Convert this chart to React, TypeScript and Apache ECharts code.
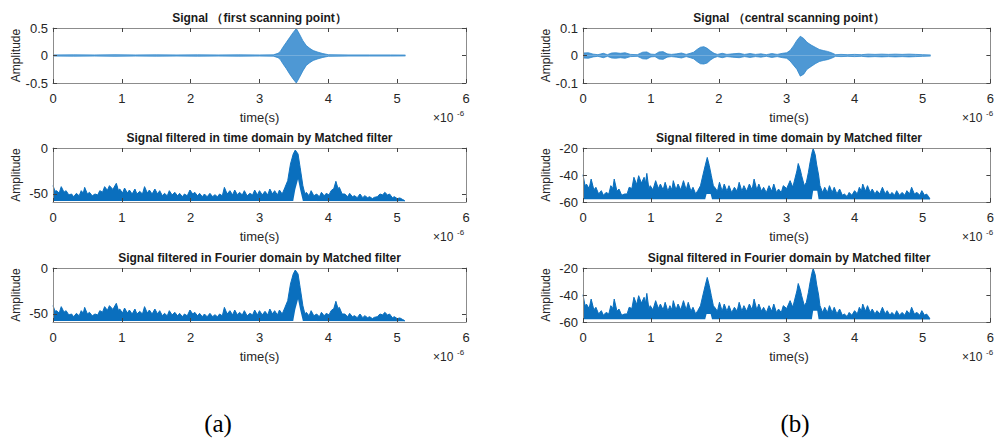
import React, { useEffect, useRef } from "react";
import * as echarts from "echarts";

// ---------- (a) Signal, first scanning point (envelope of the waveform) ----------
const sigATime = [0, 0.3, 0.6, 0.9, 1.2, 1.5, 1.8, 2.1, 2.4, 2.7, 3.0, 3.2, 3.27, 3.3, 3.34, 3.39, 3.44, 3.49, 3.535, 3.58, 3.63, 3.68, 3.73, 3.78, 3.85, 3.92, 4.0, 4.3, 4.6, 4.9, 5.12];
const sigAUpper = [0.01, 0.012, 0.01, 0.014, 0.01, 0.012, 0.01, 0.012, 0.01, 0.012, 0.01, 0.012, 0.04, 0.07, 0.15, 0.24, 0.33, 0.42, 0.49, 0.39, 0.27, 0.18, 0.13, 0.09, 0.06, 0.035, 0.015, 0.01, 0.01, 0.01, 0.008];
const sigALower = [-0.01, -0.012, -0.01, -0.014, -0.01, -0.012, -0.01, -0.012, -0.01, -0.012, -0.01, -0.012, -0.04, -0.07, -0.15, -0.24, -0.34, -0.43, -0.5, -0.4, -0.28, -0.18, -0.13, -0.09, -0.06, -0.035, -0.015, -0.01, -0.01, -0.01, -0.008];

// ---------- (a) Matched filter output, top edge of the band (time and Fourier domain look identical) ----------
const filtATime = [0, 0.03, 0.05, 0.09, 0.12, 0.16, 0.19, 0.23, 0.27, 0.3, 0.34, 0.38, 0.41, 0.44, 0.46, 0.5, 0.53, 0.57, 0.61, 0.65, 0.68, 0.72, 0.75, 0.79, 0.82, 0.87, 0.92, 0.95, 0.97, 1.01, 1.04, 1.08, 1.11, 1.15, 1.19, 1.22, 1.26, 1.3, 1.33, 1.37, 1.4, 1.44, 1.48, 1.52, 1.55, 1.59, 1.62, 1.66, 1.69, 1.73, 1.77, 1.81, 1.84, 1.88, 1.91, 1.95, 1.99, 2.03, 2.06, 2.1, 2.13, 2.17, 2.2, 2.24, 2.28, 2.32, 2.35, 2.39, 2.42, 2.46, 2.49, 2.53, 2.57, 2.61, 2.64, 2.68, 2.71, 2.75, 2.78, 2.82, 2.86, 2.9, 2.93, 2.97, 3.0, 3.04, 3.08, 3.12, 3.15, 3.19, 3.22, 3.26, 3.29, 3.33, 3.37, 3.41, 3.45, 3.49, 3.52, 3.56, 3.59, 3.63, 3.66, 3.68, 3.72, 3.75, 3.79, 3.83, 3.87, 3.9, 3.94, 3.97, 4.01, 4.04, 4.08, 4.11, 4.14, 4.16, 4.2, 4.24, 4.28, 4.31, 4.35, 4.38, 4.42, 4.46, 4.5, 4.53, 4.57, 4.6, 4.64, 4.67, 4.71, 4.75, 4.79, 4.82, 4.86, 4.89, 4.93, 4.96, 5.0, 5.04, 5.08, 5.11];
const filtAUpper = [-40.9, -47, -46.4, -49, -42.0, -48, -46.4, -51, -50.0, -53, -49.3, -52, -46.4, -49, -42.8, -50, -48.2, -52, -50.0, -51, -46.4, -48, -42.0, -46, -40.9, -45, -38.4, -46, -44.6, -49, -43.5, -49, -45.7, -50, -44.6, -50, -47.1, -50, -42.0, -49, -45.7, -50, -44.6, -50, -46.4, -52, -49.3, -52, -46.4, -51, -48.2, -52, -49.3, -53, -50.0, -52, -45.7, -50, -48.2, -52, -49.3, -53, -50.0, -53, -49.3, -53, -50.7, -53, -50.0, -52, -42.8, -50, -46.4, -51, -45.7, -51, -48.2, -51, -46.4, -52, -49.3, -51, -45.7, -51, -46.4, -51, -47.1, -51, -44.6, -50, -46.4, -51, -45.7, -50, -42.8, -35.5, -17.4, -6.5, -2.2, -6.5, -21.0, -40.9, -50, -48.2, -52, -46.4, -52, -50.0, -53, -48.2, -52, -49.3, -51, -46.4, -44, -36.2, -44, -42.8, -50, -50.0, -53, -49.3, -53, -51.8, -54, -50.0, -54, -51.8, -54, -52.9, -55, -53.6, -53, -50.0, -51, -48.2, -51, -50.0, -54, -52.9, -55, -54.3, -56, -57.2];
// bottom edge of the band (a white gap appears just after the main peak)
const filtALowTime = [0, 3.49, 3.52, 3.56, 3.59, 3.63, 5.11];
const filtALower = [-57.5, -57.5, -45, -34, -45, -57.5, -57.8];

// ---------- (b) Signal, central scanning point ----------
const sigBTime = [0, 0.08, 0.15, 0.22, 0.3, 0.36, 0.42, 0.48, 0.55, 0.62, 0.7, 0.8, 0.88, 0.94, 1.0, 1.06, 1.12, 1.18, 1.24, 1.3, 1.38, 1.45, 1.52, 1.58, 1.63, 1.68, 1.73, 1.78, 1.83, 1.88, 1.93, 1.98, 2.05, 2.12, 2.2, 2.3, 2.38, 2.46, 2.54, 2.62, 2.7, 2.78, 2.86, 2.94, 3.0, 3.05, 3.1, 3.15, 3.2, 3.25, 3.3, 3.36, 3.42, 3.48, 3.54, 3.6, 3.66, 3.72, 3.8, 3.9, 4.0, 4.1, 4.2, 4.3, 4.4, 4.5, 4.6, 4.7, 4.8, 4.9, 5.0, 5.12];
const sigBUpper = [0.009, 0.01, 0.005, 0.003, 0.008, 0.003, 0.009, 0.01, 0.008, 0.01, 0.004, 0.003, 0.012, 0.013, 0.005, 0.004, 0.013, 0.014, 0.006, 0.004, 0.006, 0.009, 0.004, 0.008, 0.012, 0.022, 0.03, 0.032, 0.026, 0.016, 0.008, 0.004, 0.008, 0.004, 0.006, 0.008, 0.004, 0.007, 0.004, 0.006, 0.003, 0.007, 0.004, 0.008, 0.01, 0.018, 0.035, 0.055, 0.07, 0.062, 0.048, 0.038, 0.03, 0.022, 0.018, 0.015, 0.01, 0.003, 0.004, 0.003, 0.004, 0.003, 0.005, 0.004, 0.005, 0.004, 0.005, 0.004, 0.005, 0.004, 0.003, 0.002];
const sigBLower = [-0.009, -0.01, -0.005, -0.003, -0.008, -0.003, -0.009, -0.01, -0.008, -0.01, -0.004, -0.003, -0.012, -0.013, -0.005, -0.004, -0.013, -0.014, -0.006, -0.004, -0.006, -0.009, -0.004, -0.008, -0.012, -0.022, -0.03, -0.031, -0.027, -0.016, -0.008, -0.004, -0.008, -0.004, -0.006, -0.008, -0.004, -0.007, -0.004, -0.006, -0.003, -0.007, -0.004, -0.008, -0.01, -0.02, -0.035, -0.05, -0.075, -0.068, -0.05, -0.04, -0.03, -0.022, -0.018, -0.015, -0.01, -0.003, -0.004, -0.003, -0.004, -0.003, -0.005, -0.004, -0.005, -0.004, -0.005, -0.004, -0.005, -0.004, -0.003, -0.002];

// ---------- (b) Matched filter output, top edge of the band ----------
const filtBTime = [0, 0.03, 0.05, 0.09, 0.12, 0.16, 0.19, 0.23, 0.27, 0.3, 0.34, 0.38, 0.41, 0.44, 0.46, 0.5, 0.53, 0.57, 0.61, 0.65, 0.68, 0.72, 0.75, 0.79, 0.82, 0.86, 0.9, 0.92, 0.94, 0.97, 0.99, 1.03, 1.07, 1.11, 1.14, 1.18, 1.21, 1.25, 1.28, 1.31, 1.33, 1.37, 1.4, 1.44, 1.48, 1.52, 1.55, 1.59, 1.62, 1.66, 1.69, 1.73, 1.77, 1.8, 1.83, 1.86, 1.89, 1.92, 1.94, 1.98, 2.01, 2.05, 2.08, 2.12, 2.15, 2.19, 2.23, 2.27, 2.3, 2.34, 2.37, 2.41, 2.45, 2.49, 2.52, 2.56, 2.59, 2.63, 2.66, 2.7, 2.74, 2.78, 2.81, 2.85, 2.88, 2.92, 2.95, 3.0, 3.05, 3.09, 3.12, 3.15, 3.17, 3.2, 3.22, 3.26, 3.29, 3.32, 3.34, 3.37, 3.39, 3.42, 3.44, 3.47, 3.49, 3.53, 3.56, 3.6, 3.63, 3.67, 3.7, 3.74, 3.78, 3.82, 3.85, 3.89, 3.92, 3.96, 4.0, 4.04, 4.07, 4.1, 4.12, 4.16, 4.19, 4.23, 4.26, 4.3, 4.33, 4.37, 4.41, 4.45, 4.48, 4.52, 4.55, 4.59, 4.62, 4.66, 4.7, 4.74, 4.77, 4.81, 4.84, 4.88, 4.92, 4.96, 4.99, 5.03, 5.06, 5.09, 5.11];
const filtBUpper = [-39.8, -48, -46.7, -50, -43.0, -51, -49.1, -54, -51.6, -55, -52.9, -54, -47.9, -50, -43.0, -52, -50.4, -55, -54.1, -54, -49.1, -50, -41.7, -47, -40.5, -46, -41.7, -46, -38.8, -50, -47.9, -51, -44.2, -50, -46.7, -51, -45.4, -52, -47.9, -51, -44.2, -51, -46.7, -51, -44.2, -51, -45.4, -52, -49.1, -54, -51.6, -48, -39.3, -33, -27.0, -33, -40.5, -48, -49.1, -52, -45.4, -52, -46.7, -52, -47.9, -53, -49.1, -52, -45.4, -52, -47.9, -52, -46.7, -51, -43.0, -51, -46.7, -52, -49.1, -53, -47.9, -52, -46.7, -53, -50.4, -53, -47.9, -50, -44.2, -49, -43.0, -37, -31.5, -36, -40.5, -48, -45.4, -38, -31.9, -24, -20.4, -25, -31.9, -40, -47.9, -53, -49.1, -53, -47.9, -53, -49.1, -54, -50.4, -55, -54.1, -56, -52.9, -55, -51.6, -54, -49.1, -52, -46.7, -52, -47.9, -53, -50.4, -54, -51.6, -54, -49.1, -54, -51.6, -55, -52.9, -55, -51.6, -55, -52.9, -55, -51.6, -54, -49.1, -54, -52.9, -55, -51.6, -55, -54.1, -56, -57.8];
// bottom edge of the band (white gaps under the two strongest peaks)
const filtBLowTime = [0, 1.8, 1.82, 1.88, 1.9, 3.37, 3.39, 3.45, 3.47, 5.11];
const filtBLower = [-58, -58, -54, -54, -58, -58, -51.6, -51.6, -58, -58.2];

// ---------- texts ----------
const titlesA = ["Signal \uFF08first scanning point\uFF09", "Signal filtered in time domain by Matched filter", "Signal filtered in Fourier domain by Matched filter"];
const titlesB = ["Signal \uFF08central scanning point\uFF09", "Signal filtered in time domain by Matched filter", "Signal filtered in Fourier domain by Matched filter"];
const yLabelName = "Amplitude";
const xLabelName = "time(s)";
const panelLabels = ["(a)", "(b)"];

const SANS = "Arial, 'Liberation Sans', Helvetica, sans-serif";
const AXIS_COLOR = "#8c8c8c";
const TEXT_COLOR = "#262626";
const SIG_COLOR = "#2f86cc";
const FILT_COLOR = "#0a6fbe";

type Box = { left: number; top: number; width: number; height: number };

const colLeft = [53, 583];
const colWidth = [413, 412];
const rowTop = [28, 148, 268];
const rowHeight = [55, 54, 54];

export default function App() {
  const ref = useRef<HTMLDivElement>(null);

  useEffect(() => {
    if (!ref.current) return;
    const chart = echarts.init(ref.current, null, { renderer: "svg" });

    const boxes: Box[] = [];
    for (let c = 0; c < 2; c++)
      for (let r = 0; r < 3; r++)
        boxes.push({ left: colLeft[c], top: rowTop[r], width: colWidth[c], height: rowHeight[r] });

    const yCfg = [
      { min: -0.5, max: 0.5, interval: 0.5, ticks: null as number[] | null },
      { min: -58.7, max: 0, interval: undefined, ticks: [-50, 0] },
      { min: -58.7, max: 0, interval: undefined, ticks: [-50, 0] },
      { min: -0.1, max: 0.1, interval: 0.1, ticks: null },
      { min: -60, max: -20, interval: 20, ticks: null },
      { min: -60, max: -20, interval: 20, ticks: null },
    ];

    const grid: any[] = [];
    const xAxis: any[] = [];
    const yAxis: any[] = [];
    const series: any[] = [];

    const fmtY = (v: number) => String(Math.round(v * 1000) / 1000);

    boxes.forEach((b, i) => {
      grid.push({ left: b.left, top: b.top, width: b.width, height: b.height, containLabel: false, show: false });
      const tickStyle = { inside: true, length: 4, lineStyle: { color: "#444", width: 1 } };
      xAxis.push({
        type: "value", gridIndex: i, min: 0, max: 6, interval: 1, position: "bottom", z: 10,
        axisLine: { show: true, onZero: false, lineStyle: { color: AXIS_COLOR, width: 1 } },
        axisTick: tickStyle,
        axisLabel: { color: TEXT_COLOR, fontSize: 13, fontFamily: SANS, margin: 9, showMinLabel: true, showMaxLabel: true },
        splitLine: { show: false },
      });
      xAxis.push({
        type: "value", gridIndex: i, min: 0, max: 6, interval: 1, position: "top", z: 10,
        axisLine: { show: true, onZero: false, lineStyle: { color: AXIS_COLOR, width: 1 } },
        axisTick: tickStyle,
        axisLabel: { show: false },
        splitLine: { show: false },
      });
      const yc = yCfg[i];
      const yBase: any = {
        type: "value", gridIndex: i, min: yc.min, max: yc.max, z: 10,
        splitLine: { show: false },
      };
      if (yc.interval !== undefined) yBase.interval = yc.interval;
      const yTick: any = { ...tickStyle };
      const yLab: any = { color: TEXT_COLOR, fontSize: 13, fontFamily: SANS, margin: 5, formatter: fmtY, showMinLabel: true, showMaxLabel: true };
      if (yc.ticks) {
        yTick.customValues = yc.ticks;
        yLab.customValues = yc.ticks;
      }
      yAxis.push({
        ...yBase, position: "left",
        axisLine: { show: true, onZero: false, lineStyle: { color: AXIS_COLOR, width: 1 } },
        axisTick: yTick,
        axisLabel: yLab,
      });
      yAxis.push({
        ...yBase, position: "right",
        axisLine: { show: true, onZero: false, lineStyle: { color: AXIS_COLOR, width: 1 } },
        axisTick: yTick,
        axisLabel: { show: false },
      });
    });

    const xi = (i: number) => i * 2;
    const yi = (i: number) => i * 2;

    const addSignal = (i: number, t: number[], up: number[], lo: number[]) => {
      [up, lo].forEach((arr) => {
        series.push({
          type: "line", xAxisIndex: xi(i), yAxisIndex: yi(i), silent: true, z: 2,
          showSymbol: false, symbol: "none",
          lineStyle: { color: SIG_COLOR, width: 0.8 },
          areaStyle: { color: SIG_COLOR, opacity: 0.85, origin: 0 },
          data: t.map((x, k) => [x, arr[k]]),
        });
      });
    };

    // top edge filled down to the axis floor, then the bottom edge
    // painted in white so that only the band between them stays blue
    const addFiltered = (i: number, t: number[], up: number[], tl: number[], lo: number[]) => {
      series.push({
        type: "line", xAxisIndex: xi(i), yAxisIndex: yi(i), silent: true, z: 2,
        showSymbol: false, symbol: "none",
        lineStyle: { color: FILT_COLOR, width: 1 },
        areaStyle: { color: FILT_COLOR, opacity: 1, origin: "start" },
        data: t.map((x, k) => [x, up[k]]),
      });
      series.push({
        type: "line", xAxisIndex: xi(i), yAxisIndex: yi(i), silent: true, z: 3,
        showSymbol: false, symbol: "none",
        lineStyle: { width: 0, opacity: 0 },
        areaStyle: { color: "#ffffff", opacity: 1, origin: "start" },
        data: tl.map((x, k) => [x, lo[k]]),
      });
    };

    addSignal(0, sigATime, sigAUpper, sigALower);
    addFiltered(1, filtATime, filtAUpper, filtALowTime, filtALower);
    addFiltered(2, filtATime, filtAUpper, filtALowTime, filtALower);
    addSignal(3, sigBTime, sigBUpper, sigBLower);
    addFiltered(4, filtBTime, filtBUpper, filtBLowTime, filtBLower);
    addFiltered(5, filtBTime, filtBUpper, filtBLowTime, filtBLower);

    const graphic: any[] = [];
    boxes.forEach((b, i) => {
      const c = i < 3 ? 0 : 1;
      const r = i % 3;
      const title = (c === 0 ? titlesA : titlesB)[r];
      const cx = b.left + b.width / 2;
      graphic.push({
        type: "text", x: cx, y: b.top - 10, silent: true,
        style: { text: title, fill: "#1a1a1a", font: `bold 12px ${SANS}`, textAlign: "center", textVerticalAlign: "middle" },
      });
      graphic.push({
        type: "text", x: cx, y: b.top + b.height + 34, silent: true,
        style: { text: xLabelName, fill: TEXT_COLOR, font: `13px ${SANS}`, textAlign: "center", textVerticalAlign: "middle" },
      });
      graphic.push({
        type: "text", x: b.left + b.width - 33, y: b.top + b.height + 35, silent: true,
        style: { text: "\u00D710", fill: TEXT_COLOR, font: `12px ${SANS}`, textAlign: "left", textVerticalAlign: "middle" },
      });
      graphic.push({
        type: "text", x: b.left + b.width - 9, y: b.top + b.height + 30, silent: true,
        style: { text: "-6", fill: TEXT_COLOR, font: `8px ${SANS}`, textAlign: "left", textVerticalAlign: "middle" },
      });
      graphic.push({
        type: "text", x: b.left - 37, y: b.top + b.height / 2, rotation: Math.PI / 2, silent: true,
        style: { text: yLabelName, fill: TEXT_COLOR, font: `12px ${SANS}`, textAlign: "center", textVerticalAlign: "middle" },
      });
    });
    graphic.push({
      type: "text", x: 218, y: 423, silent: true,
      style: { text: panelLabels[0], fill: "#000", font: `25px 'Liberation Serif', 'Times New Roman', serif`, textAlign: "center", textVerticalAlign: "middle" },
    });
    graphic.push({
      type: "text", x: 795, y: 423, silent: true,
      style: { text: panelLabels[1], fill: "#000", font: `25px 'Liberation Serif', 'Times New Roman', serif`, textAlign: "center", textVerticalAlign: "middle" },
    });

    chart.setOption({
      animation: false,
      backgroundColor: "#ffffff",
      grid, xAxis, yAxis, series, graphic,
    });

    return () => chart.dispose();
  }, []);

  return (
    <div
      ref={ref}
      style={{ position: "fixed", left: 0, top: 0, width: 997, height: 439, background: "#fff" }}
    />
  );
}
